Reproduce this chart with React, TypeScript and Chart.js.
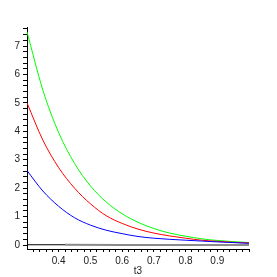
import React, { useEffect, useRef } from "react";
import { Chart, registerables } from "chart.js";

Chart.register(...registerables);

// sample points along t3
const T = [0.3, 0.35, 0.4, 0.45, 0.5, 0.55, 0.6, 0.65, 0.7, 0.75, 0.8, 0.85, 0.9, 0.95, 1.0];
const GREEN = [7.5, 5.45, 3.95, 2.87, 2.08, 1.51, 1.1, 0.8, 0.58, 0.42, 0.31, 0.22, 0.16, 0.12, 0.085];
const RED = [5.0, 3.69, 2.72, 2.0, 1.45, 1.03, 0.76, 0.56, 0.42, 0.32, 0.24, 0.17, 0.13, 0.095, 0.07];
const BLUE = [2.62, 1.9, 1.36, 0.96, 0.7, 0.52, 0.4, 0.3, 0.24, 0.2, 0.17, 0.14, 0.11, 0.085, 0.06];
const BASE_T = [0.3, 0.42, 0.6, 0.8, 1.0];
const BASE = [0.01, 0.01, 0.005, 0.005, 0.005];

const X_MIN = 0.3;
const X_MAX = 1.0;
const Y_MIN = -0.14;
const Y_MAX = 7.67;
const X_MINOR_STEP = 0.02;
const Y_MINOR_STEP = 0.2;
const X_TICK_LABELS = ["0.4", "0.5", "0.6", "0.7", "0.8", "0.9"];
const Y_TICK_LABELS = ["0", "1", "2", "3", "4", "5", "6", "7"];
const X_TITLE = "t3";

const toPts = (xs: number[], ys: number[]) => xs.map((x, i) => ({ x, y: ys[i] }));

export default function App() {
  const ref = useRef<HTMLCanvasElement | null>(null);
  useEffect(() => {
    if (!ref.current) return;
    const font = { family: "'Liberation Sans', Arial, sans-serif", size: 10 };
    const chart = new Chart(ref.current, {
      type: "line",
      data: {
        datasets: [
          {
            data: toPts(BASE_T, BASE),
            borderColor: "#000",
            borderWidth: 1,
            pointRadius: 0,
            segment: {
              borderColor: (c: any) => (c.p0.parsed.x < 0.41 ? "#000" : "#8a8a8a"),
              borderWidth: (c: any) => (c.p0.parsed.x < 0.41 ? 1 : 2),
            },
          },
          { data: toPts(T, BLUE), borderColor: "#0000ff", borderWidth: 1, pointRadius: 0, cubicInterpolationMode: "monotone" },
          { data: toPts(T, RED), borderColor: "#ff0000", borderWidth: 1, pointRadius: 0, cubicInterpolationMode: "monotone" },
          { data: toPts(T, GREEN), borderColor: "#00ff00", borderWidth: 1, pointRadius: 0, cubicInterpolationMode: "monotone" },
        ],
      },
      options: {
        animation: false,
        responsive: false,
        parsing: true,
        layout: { padding: { top: 27, right: 28, left: 0, bottom: 0 } },
        plugins: { legend: { display: false }, tooltip: { enabled: false } },
        scales: {
          x: {
            type: "linear",
            min: X_MIN,
            max: X_MAX,
            afterBuildTicks: (s: any) => {
              const ticks = [];
              for (let v = X_MIN + X_MINOR_STEP; v <= X_MAX + 1e-9; v += X_MINOR_STEP) ticks.push({ value: v });
              s.ticks = ticks;
            },
            afterFit: (s: any) => {
              s.height = 28;
            },
            ticks: {
              autoSkip: false,
              maxRotation: 0,
              padding: 3,
              color: "#222",
              font,
              callback: (v: any) => {
                const lab = Number(v).toFixed(1);
                return Math.abs(Number(v) * 10 - Math.round(Number(v) * 10)) < 1e-6 && X_TICK_LABELS.includes(lab) ? lab : "";
              },
            },
            grid: { drawOnChartArea: false, tickLength: 3, tickColor: "#000" },
            border: { display: true, color: "#000", width: 1 },
            title: { display: true, text: X_TITLE, color: "#222", font, padding: { top: 0, bottom: 0 } },
          },
          y: {
            type: "linear",
            min: Y_MIN,
            max: Y_MAX,
            afterBuildTicks: (s: any) => {
              const ticks = [];
              for (let v = 0; v <= Y_MAX + 1e-9; v += Y_MINOR_STEP) ticks.push({ value: v });
              s.ticks = ticks;
            },
            afterFit: (s: any) => {
              s.width = 27;
            },
            ticks: {
              autoSkip: false,
              padding: 3,
              color: "#222",
              font,
              callback: (v: any) => {
                const n = Number(v);
                const r = Math.round(n);
                return Math.abs(n - r) < 1e-6 && Y_TICK_LABELS[r] !== undefined ? Y_TICK_LABELS[r] : "";
              },
            },
            grid: { drawOnChartArea: false, tickLength: 4, tickColor: "#000" },
            border: { display: true, color: "#000", width: 1 },
          },
        },
      },
    } as any);
    return () => chart.destroy();
  }, []);
  return (
    <div style={{ position: "fixed", left: 0, top: 0, width: 277, height: 277, background: "#fff" }}>
      <canvas ref={ref} width={277} height={277} />
    </div>
  );
}
